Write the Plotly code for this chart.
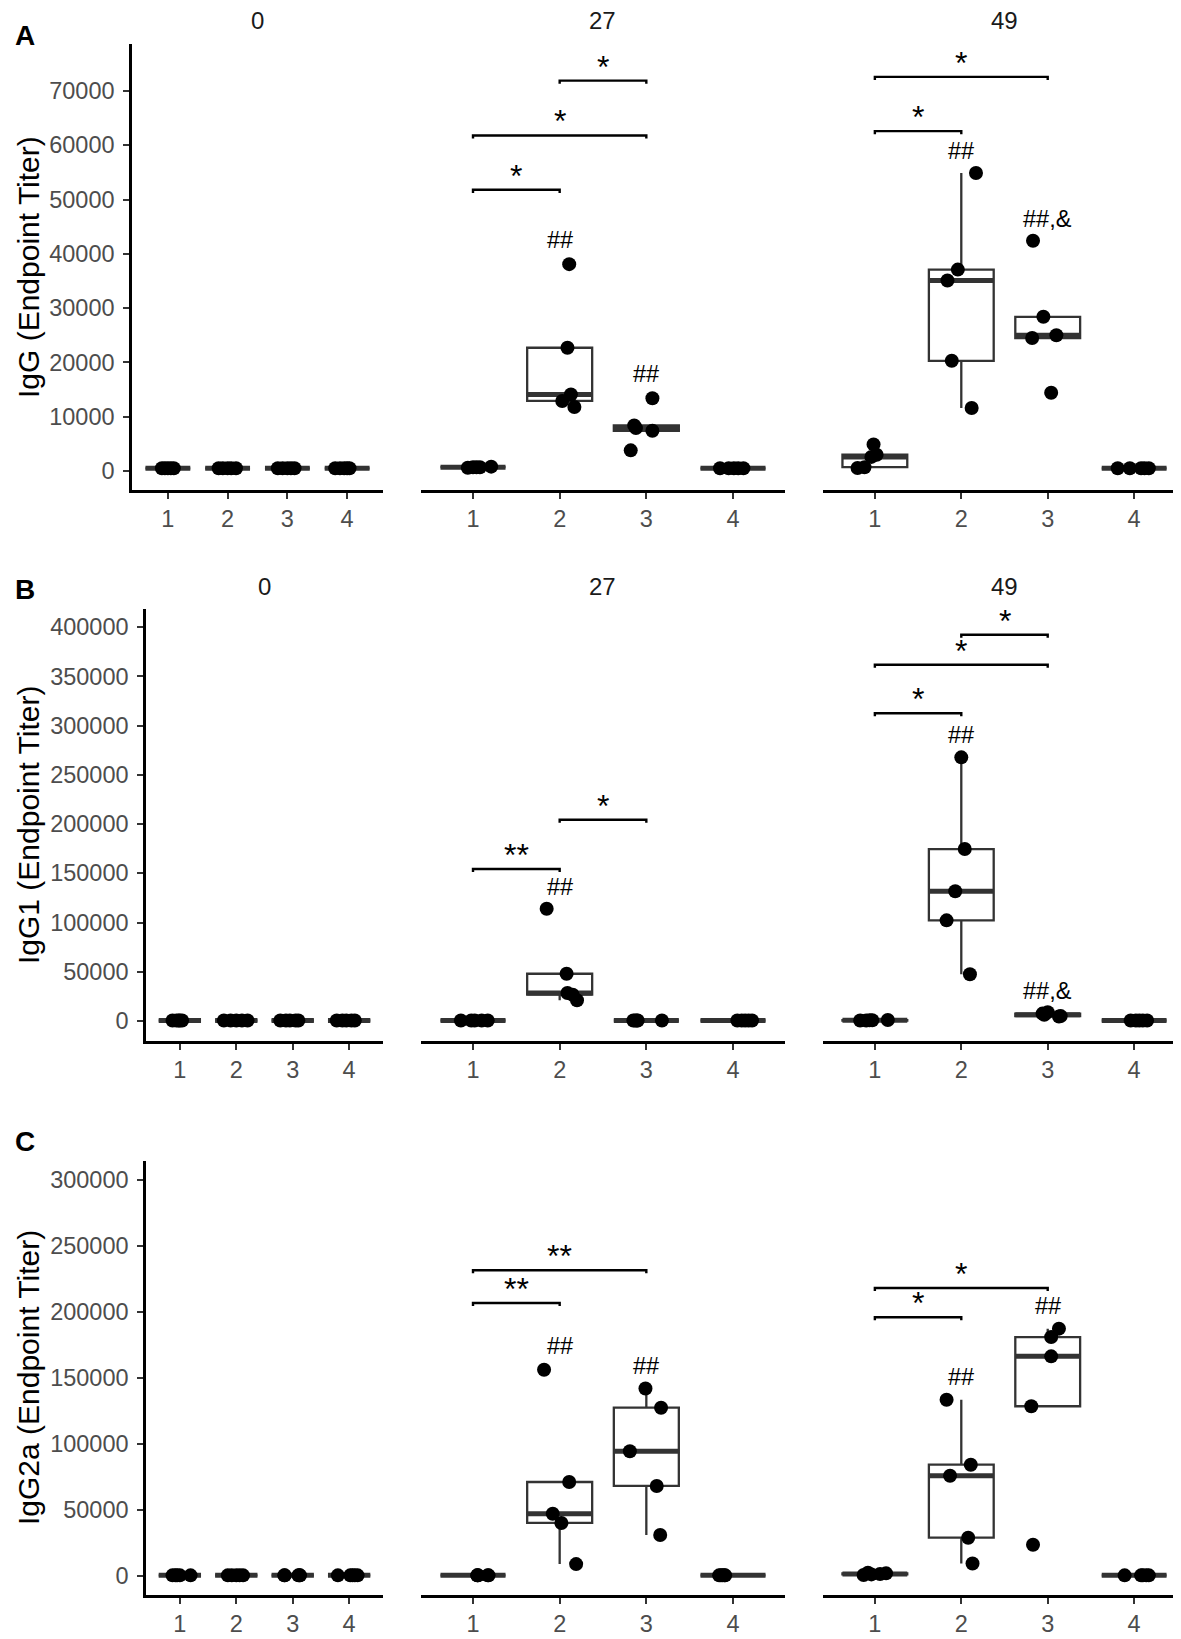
import numpy as np
import plotly.graph_objects as go

W, H = 1181, 1639
GROUPS = [1, 2, 3, 4]
DAYS = ["0", "27", "49"]

# ---- IgG (panel A) ----
IGG_D0 = [[500, 500, 500, 500, 500], [500, 500, 500, 500, 500],
          [500, 500, 500, 500, 500], [500, 500, 500, 500, 500]]
IGG_D27 = [[600, 700, 700, 700, 800], [11800, 12900, 14100, 22700, 38100],
           [3800, 7400, 7900, 8400, 13400], [500, 500, 500, 500, 500]]
IGG_D49 = [[550, 700, 2600, 3000, 4900], [11600, 20300, 35100, 37100, 54900],
           [14400, 24500, 25000, 28400, 42400], [500, 500, 500, 500, 500]]

# ---- IgG1 (panel B) ----
IGG1_D0 = [[500, 500, 500, 500, 500], [500, 500, 500, 500, 500],
           [500, 500, 500, 500, 500], [500, 500, 500, 500, 500]]
IGG1_D27 = [[500, 500, 500, 500, 500], [21000, 26700, 28400, 48000, 114000],
            [500, 500, 500, 500, 500], [500, 500, 500, 500, 500]]
IGG1_D49 = [[500, 500, 700, 800, 1000], [47400, 102200, 131700, 174600, 267700],
            [4500, 5000, 6400, 7500, 9000], [500, 500, 500, 500, 500]]

# ---- IgG2a (panel C) ----
IGG2A_D0 = [[500, 500, 500, 500, 500], [500, 500, 500, 500, 500],
            [500, 500, 500, 500, 500], [500, 500, 500, 500, 500]]
IGG2A_D27 = [[500, 500, 500, 500, 500], [9000, 40200, 47200, 71200, 156300],
             [31000, 68200, 94500, 127500, 142000], [500, 500, 500, 500, 500]]
IGG2A_D49 = [[800, 1200, 1500, 2000, 2500], [9500, 29000, 76000, 84300, 133500],
             [23700, 128600, 166400, 181000, 187400], [500, 500, 500, 500, 500]]

# jitter offsets of the dots
JIT_IGG = [
    [[-0.1, -0.05, 0.0, 0.05, 0.1], [-0.15, -0.08, 0.0, 0.06, 0.14],
     [-0.16, -0.08, 0.0, 0.06, 0.12], [-0.2, -0.12, -0.05, 0.0, 0.04]],
    [[-0.06, 0.0, 0.04, 0.08, 0.21], [0.17, 0.03, 0.13, 0.09, 0.11],
     [-0.18, 0.07, -0.12, -0.14, 0.07], [-0.15, -0.05, 0.01, 0.06, 0.12]],
    [[-0.2, -0.12, -0.04, 0.02, -0.015], [0.12, -0.11, -0.16, -0.04, 0.17],
     [0.04, -0.18, 0.1, -0.05, -0.17], [-0.19, -0.05, 0.08, 0.12, 0.17]],
]
JIT_IGG1 = [
    [[-0.13, -0.06, -0.02, 0.0, 0.04], [-0.22, -0.1, 0.0, 0.1, 0.2],
     [-0.22, -0.12, -0.05, 0.05, 0.1], [-0.22, -0.12, -0.05, 0.04, 0.1]],
    [[-0.14, -0.02, 0.02, 0.1, 0.17], [0.2, 0.15, 0.09, 0.08, -0.15],
     [-0.15, -0.13, -0.11, -0.1, 0.18], [0.05, 0.1, 0.14, 0.18, 0.22]],
    [[-0.17, -0.1, -0.06, -0.03, 0.15], [0.1, -0.17, -0.07, 0.04, 0.0],
     [0.13, 0.15, -0.04, -0.06, 0.0], [-0.04, 0.02, 0.06, 0.1, 0.15]],
]
JIT_IGG2A = [
    [[-0.13, -0.08, -0.05, 0.0, 0.19], [-0.15, -0.08, 0.0, 0.06, 0.12],
     [-0.15, -0.14, 0.1, 0.12, 0.13], [-0.2, 0.02, 0.06, 0.1, 0.15]],
    [[0.05, 0.06, 0.17, 0.18, 0.05], [0.19, 0.02, -0.08, 0.11, -0.18],
     [0.16, 0.12, -0.19, 0.17, -0.01], [-0.16, -0.14, -0.12, -0.1, -0.09]],
    [[-0.13, -0.04, 0.06, 0.13, -0.08], [0.13, 0.08, -0.13, 0.11, -0.17],
     [-0.17, -0.19, 0.04, 0.04, 0.13], [-0.11, 0.08, 0.1, 0.14, 0.17]],
]

# significance brackets: (group a, group b, height, label)
SIG_IGG = [[], [(1, 2, 51800, "*"), (1, 3, 61800, "*"), (2, 3, 71900, "*")],
           [(1, 2, 62600, "*"), (1, 3, 72600, "*")]]
SIG_IGG1 = [[], [(1, 2, 154300, "**"), (2, 3, 204400, "*")],
            [(1, 2, 312400, "*"), (1, 3, 361700, "*"), (2, 3, 392200, "*")]]
SIG_IGG2A = [[], [(1, 2, 206800, "**"), (1, 3, 231600, "**")],
             [(1, 2, 196000, "*"), (1, 3, 218200, "*")]]

# marks over single groups: (group, height, label)
HASH_IGG = [[], [(2, 42600, "##"), (3, 17900, "##")],
            [(2, 59000, "##"), (3, 46500, "##,&")]]
HASH_IGG1 = [[], [(2, 135700, "##")],
             [(2, 290600, "##"), (3, 30100, "##,&")]]
HASH_IGG2A = [[], [(2, 174500, "##"), (3, 158900, "##")],
              [(2, 150500, "##"), (3, 204300, "##")]]

ROWS = [
    dict(letter="A", title="IgG (Endpoint Titer)", data=[IGG_D0, IGG_D27, IGG_D49],
         jit=JIT_IGG, sig=SIG_IGG, hashes=HASH_IGG, yr=[-3500, 78650],
         ticks=list(range(0, 70001, 10000)), ypx=(36, 482), x0=124, strip=True),
    dict(letter="B", title="IgG1 (Endpoint Titer)", data=[IGG1_D0, IGG1_D27, IGG1_D49],
         jit=JIT_IGG1, sig=SIG_IGG1, hashes=HASH_IGG1, yr=[-20300, 418300],
         ticks=list(range(0, 400001, 50000)), ypx=(601, 1033), x0=138, strip=True),
    dict(letter="C", title="IgG2a (Endpoint Titer)", data=[IGG2A_D0, IGG2A_D27, IGG2A_D49],
         jit=JIT_IGG2A, sig=SIG_IGG2A, hashes=HASH_IGG2A, yr=[-14400, 314400],
         ticks=list(range(0, 300001, 50000)), ypx=(1153, 1587), x0=138, strip=False),
]
COLS_PX = [(None, 375), (413, 777), (815, 1178)]

FONT = "Liberation Sans, Arial, sans-serif"
BOX_LINE = "#333333"


def box_stats(vals):
    v = np.sort(np.asarray(vals, dtype=float))
    q1, med, q3 = np.percentile(v, [25, 50, 75])
    iqr = q3 - q1
    lo = v[v >= q1 - 1.5 * iqr].min()
    hi = v[v <= q3 + 1.5 * iqr].max()
    return q1, med, q3, lo, hi


fig = go.Figure()
layout = {}
k = 0
for row in ROWS:
    y0px, y1px = row["ypx"]
    span = row["yr"][1] - row["yr"][0]
    tip = span * 0.007
    for c in range(3):
        k += 1
        xa = "x" if k == 1 else f"x{k}"
        ya = "y" if k == 1 else f"y{k}"
        vals = row["data"][c]
        jit = row["jit"][c]
        stats = [box_stats(g) for g in vals]

        fig.add_trace(go.Box(
            x=GROUPS, q1=[s[0] for s in stats], median=[s[1] for s in stats],
            q3=[s[2] for s in stats], lowerfence=[s[3] for s in stats],
            upperfence=[s[4] for s in stats], width=0.75, whiskerwidth=0,
            fillcolor="white", line=dict(color=BOX_LINE, width=2.3),
            boxpoints=False, showlegend=False, hoverinfo="skip",
            xaxis=xa, yaxis=ya))

        # thicker median line, like ggplot
        mx, my = [], []
        for g, s in zip(GROUPS, stats):
            mx += [g - 0.375, g + 0.375, None]
            my += [s[1], s[1], None]
        fig.add_trace(go.Scatter(x=mx, y=my, mode="lines",
                                 line=dict(color=BOX_LINE, width=5),
                                 showlegend=False, hoverinfo="skip",
                                 xaxis=xa, yaxis=ya))

        # jittered points
        px, py = [], []
        for g, gv, gj in zip(GROUPS, vals, jit):
            for v, j in zip(gv, gj):
                px.append(g + j)
                py.append(v)
        fig.add_trace(go.Scatter(x=px, y=py, mode="markers",
                                 marker=dict(size=14, color="black"),
                                 showlegend=False, xaxis=xa, yaxis=ya))

        # significance brackets
        for g1, g2, yv, lab in row["sig"][c]:
            fig.add_trace(go.Scatter(x=[g1, g1, g2, g2], y=[yv - tip, yv, yv, yv - tip],
                                     mode="lines", line=dict(color="black", width=2.4),
                                     showlegend=False, hoverinfo="skip",
                                     xaxis=xa, yaxis=ya))
            fig.add_annotation(x=(g1 + g2) / 2, y=yv, xref=xa, yref=ya, text=lab,
                               showarrow=False, xanchor="center", yanchor="middle",
                               yshift=14,
                               font=dict(family=FONT, size=32, color="black"))
        for g, yv, lab in row["hashes"][c]:
            fig.add_annotation(x=g, y=yv, xref=xa, yref=ya, text=lab,
                               showarrow=False, xanchor="center", yanchor="middle",
                               font=dict(family=FONT, size=23.5, color="black"))

        left = row["x0"] if c == 0 else COLS_PX[c][0]
        right = COLS_PX[c][1]
        xkey = "xaxis" if k == 1 else f"xaxis{k}"
        ykey = "yaxis" if k == 1 else f"yaxis{k}"
        layout[xkey] = dict(
            domain=[left / W, right / W], range=[0.4, 4.6], anchor=ya,
            tickvals=GROUPS, ticktext=[str(g) for g in GROUPS],
            showline=True, linecolor="black", linewidth=2.5,
            ticks="outside", ticklen=6, tickwidth=2, tickcolor=BOX_LINE,
            tickfont=dict(family=FONT, size=23.5, color="#4D4D4D"),
            showgrid=False, zeroline=False, fixedrange=True)
        ydict = dict(domain=[1 - y1px / H, 1 - y0px / H], range=row["yr"], anchor=xa,
                     showgrid=False, zeroline=False, fixedrange=True)
        if c == 0:
            ydict.update(tickvals=row["ticks"], ticktext=[str(t) for t in row["ticks"]],
                         showline=True, linecolor="black", linewidth=2.5,
                         ticks="outside", ticklen=6, tickwidth=2, tickcolor=BOX_LINE,
                         ticklabelstandoff=4,
                         tickfont=dict(family=FONT, size=23.5, color="#4D4D4D"))
        else:
            ydict.update(visible=False)
        layout[ykey] = ydict

        # facet strip titles
        if row["strip"]:
            fig.add_annotation(x=(left + right) / 2 / W, y=1 - (y0px - 23) / H,
                               xref="paper", yref="paper", text=DAYS[c],
                               showarrow=False, xanchor="center", yanchor="middle",
                               font=dict(family=FONT, size=24, color="#1A1A1A"))

    # panel letter and y title
    fig.add_annotation(x=17 / W, y=1 - (y0px - 9 if row["letter"] == "A" else y0px - 20) / H,
                       xref="paper", yref="paper", text=f"<b>{row['letter']}</b>",
                       showarrow=False, xanchor="center", yanchor="middle",
                       font=dict(family=FONT, size=28, color="black"))
    fig.add_annotation(x=20 / W, y=1 - (y0px + y1px) / 2 / H, xref="paper", yref="paper",
                       text=row["title"], textangle=-90, showarrow=False,
                       xanchor="center", yanchor="middle",
                       font=dict(family=FONT, size=30, color="black"))

fig.update_layout(width=W, height=H, margin=dict(l=0, r=0, t=0, b=0),
                  paper_bgcolor="white", plot_bgcolor="white", showlegend=False,
                  font=dict(family=FONT), **layout)

fig.write_html("out.html")
